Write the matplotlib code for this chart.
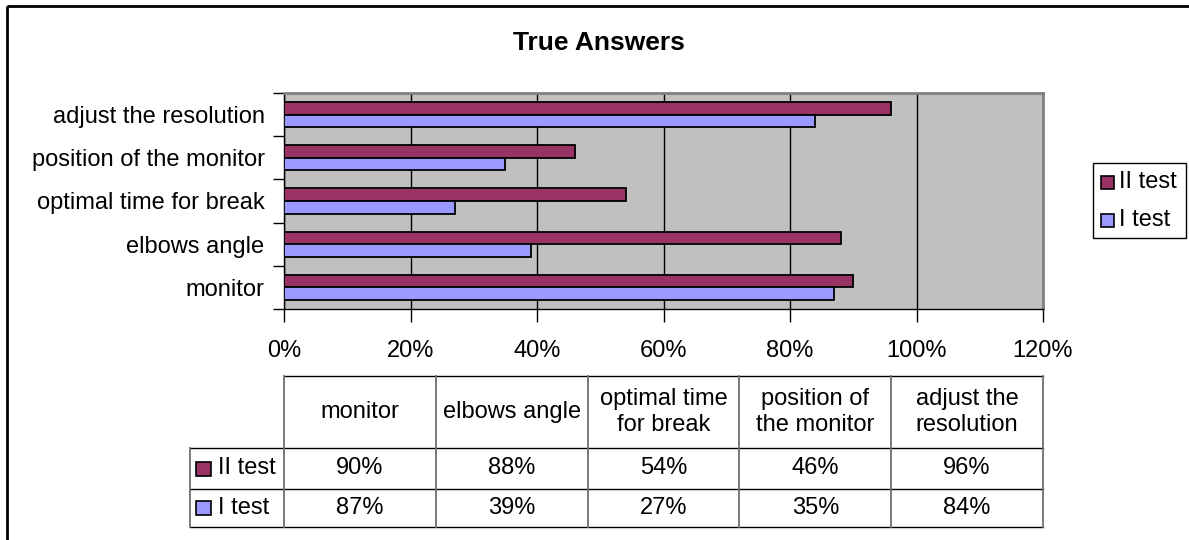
import numpy as np
import matplotlib.pyplot as plt
from matplotlib.patches import Rectangle
from matplotlib.lines import Line2D

plt.rcParams['font.family'] = ['Liberation Sans', 'DejaVu Sans']

categories = ['monitor', 'elbows angle', 'optimal time for break',
              'position of the monitor', 'adjust the resolution']
table_headers = ['monitor', 'elbows angle', 'optimal time\nfor break',
                 'position of\nthe monitor', 'adjust the\nresolution']
test2 = [0.90, 0.88, 0.54, 0.46, 0.96]
test1 = [0.87, 0.39, 0.27, 0.35, 0.84]
series_names = ['II test', 'I test']
xticks = [0, 0.2, 0.4, 0.6, 0.8, 1.0, 1.2]

maroon = '#993366'
lilac = '#9999FF'
fs = 17

W, H = 1189, 540
fig = plt.figure(figsize=(W / 100, H / 100), dpi=100)

# plot area in pixel terms
L, R, T, B = 284, 1043, 93, 309
ax = fig.add_axes([L / W, 1 - B / H, (R - L) / W, (B - T) / H])
ax.set_facecolor('#C0C0C0')

y = np.arange(len(categories))
h = 0.29
ax.barh(y + h / 2, test2, height=h, color=maroon, edgecolor='black', linewidth=1.3, zorder=3)
ax.barh(y - h / 2, test1, height=h, color=lilac, edgecolor='black', linewidth=1.3, zorder=3)

ax.set_xlim(0, 1.2)
ax.set_ylim(-0.5, len(categories) - 0.5)
ax.set_xticks(xticks)
ax.set_xticklabels([f'{int(round(v * 100))}%' for v in xticks], fontsize=fs)
ax.xaxis.grid(True, color='black', linewidth=1)
ax.set_axisbelow(True)

ax.set_yticks(np.arange(-0.5, len(categories)), labels=[])
ax.set_yticks(y, labels=categories, minor=True)
ax.tick_params(axis='y', which='major', length=8, width=1)
ax.tick_params(axis='y', which='minor', length=0, pad=14, labelsize=fs)
ax.tick_params(axis='x', length=9, width=1, pad=13)

for s in ['top', 'right']:
    ax.spines[s].set_color('#808080')
    ax.spines[s].set_linewidth(2)
for s in ['left', 'bottom']:
    ax.spines[s].set_color('black')
    ax.spines[s].set_linewidth(1)

# overlay in pixel coordinates for title, table, legend, frame
ov = fig.add_axes([0, 0, 1, 1])
ov.set_xlim(0, W)
ov.set_ylim(H, 0)
ov.axis('off')
ov.patch.set_alpha(0)

ov.add_patch(Rectangle((7, 6), W + 10, H + 10, fill=False, edgecolor='black', linewidth=2))
ov.text(599, 43, 'True Answers', ha='center', va='center', fontsize=19, fontweight='bold')

# data table below the chart
cols = np.linspace(L, R, len(categories) + 1)
rows = [376, 448, 489, 527]
lab_left = 190
ov.add_line(Line2D([L, R], [rows[0], rows[0]], color='black', lw=1))
for r in rows[1:]:
    ov.add_line(Line2D([lab_left, R], [r, r], color='black', lw=1))
for c in cols:
    ov.add_line(Line2D([c, c], [rows[0], rows[-1]], color='#707070', lw=1.3))
ov.add_line(Line2D([lab_left, lab_left], [rows[1], rows[-1]], color='#707070', lw=1.3))

for i, hdr in enumerate(table_headers):
    cx = (cols[i] + cols[i + 1]) / 2
    ov.text(cx, (rows[0] + rows[1]) / 2, hdr, ha='center', va='center',
            fontsize=fs, linespacing=1.22)

for j, (name, vals, col) in enumerate(zip(series_names, [test2, test1], [maroon, lilac])):
    cy = (rows[j + 1] + rows[j + 2]) / 2
    ov.add_patch(Rectangle((196, cy - 7), 15, 14, facecolor=col, edgecolor='black', linewidth=1.2))
    ov.text(218, cy, name, ha='left', va='center', fontsize=fs)
    for i, v in enumerate(vals):
        cx = (cols[i] + cols[i + 1]) / 2
        ov.text(cx, cy, f'{int(round(v * 100))}%', ha='center', va='center', fontsize=fs)

# legend
ov.add_patch(Rectangle((1093, 163), 93, 75, fill=False, edgecolor='black', linewidth=1))
for j, (name, col) in enumerate(zip(series_names, [maroon, lilac])):
    cy = 182 + j * 38
    ov.add_patch(Rectangle((1101, cy - 6), 13, 13, facecolor=col, edgecolor='black', linewidth=1.2))
    ov.text(1119, cy, name, ha='left', va='center', fontsize=fs)

fig.savefig('out.png', dpi=100)
